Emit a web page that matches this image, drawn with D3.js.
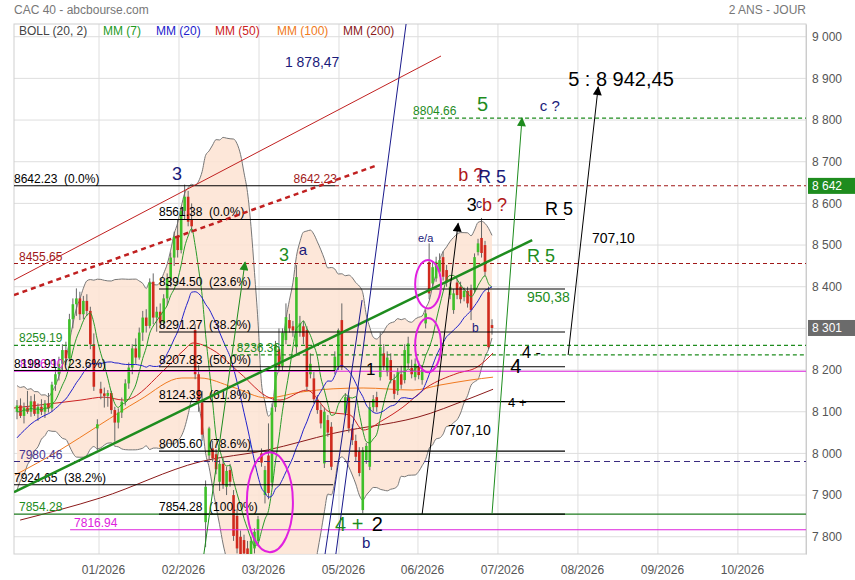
<!DOCTYPE html>
<html><head><meta charset="utf-8">
<script src="https://cdn.jsdelivr.net/npm/d3@7"></script>
<style>
html,body{margin:0;padding:0;background:#fff;}
svg{display:block;font-family:"Liberation Sans",Arial,sans-serif;}
text{white-space:pre;}
</style></head><body>
<svg id="c" width="855" height="580"></svg>
<script>
// ---------- DATA ----------
const priorCloses = [7905,7950,7930,7975,7970,8010,7995,8035,8030,8060,8045,8075,8068,8090,8080,8102,8095,8112,8105];
// [open, high, low, close] per trading day
const candles = [
[8100,8128,8082,8115],[8115,8132,8085,8090],[8090,8122,8072,8110],[8110,8150,8095,8100],[8100,8138,8088,8125],
[8125,8142,8090,8095],[8095,8120,8078,8112],[8112,8130,8092,8100],[8100,8128,8085,8120],[8120,8145,8098,8108],
[8108,8172,8100,8165],[8165,8205,8150,8190],[8190,8232,8175,8215],[8215,8262,8200,8248],[8248,8268,8212,8228],
[8228,8335,8222,8322],[8322,8372,8300,8358],[8358,8396,8330,8372],[8372,8388,8320,8334],[8334,8378,8322,8366],
[8366,8382,8330,8342],[8342,8352,8250,8262],[8262,8288,8150,8160],[8060,8082,8008,8070],[8155,8172,8130,8144],
[8144,8158,8110,8138],[8138,8152,8112,8145],[8145,8150,8095,8104],[8104,8112,8028,8074],[8074,8108,8060,8098],
[8098,8134,8085,8124],[8124,8178,8115,8168],[8168,8218,8155,8206],[8206,8262,8190,8252],[8252,8276,8215,8230],
[8230,8302,8225,8290],[8290,8342,8270,8326],[8326,8346,8290,8306],[8306,8420,8300,8410],[8412,8432,8310,8326],
[8326,8352,8292,8340],[8340,8360,8300,8314],[8314,8382,8300,8372],[8372,8432,8355,8420],[8420,8482,8400,8470],
[8470,8532,8450,8520],[8520,8562,8470,8488],[8488,8592,8480,8582],[8582,8645,8560,8616],[8616,8630,8545,8556],
[8562,8600,8530,8545],[8296,8310,8178,8190],[8190,8212,8100,8122],[8122,8150,8030,8045],[7835,7935,7775,7920],
[7995,8064,7985,8060],[8012,8030,7980,7988],[7998,8010,7950,7962],[7932,7985,7910,7975],[7975,7990,7915,7925],
[7920,7968,7900,7958],[7960,7975,7920,7932],[7900,7912,7790,7802],[7850,7866,7760,7772],[7800,7815,7740,7758],
[7792,7805,7735,7760],[7772,7790,7730,7752],[7755,7800,7735,7790],[7772,7820,7760,7812],[7790,7850,7780,7842],
[8000,8012,7968,7978],[7900,7970,7880,7960],[7995,8072,7890,7905],[7930,8120,7920,8110],[8111,8270,8100,8255],
[8250,8300,8195,8210],[8210,8300,8200,8290],[8272,8360,8262,8327],[8320,8335,8290,8300],[8305,8318,8280,8295],
[8255,8452,8240,8423],[8290,8330,8280,8312],[8305,8318,8262,8280],[8296,8305,8150,8160],[8190,8240,8180,8215],
[8180,8195,8120,8130],[8128,8140,8095,8104],[8104,8118,8060,8072],[7976,8110,7965,8100],[8080,8092,8040,8050],
[8064,8075,7960,7968],[8200,8245,8190,8232],[8210,8300,8200,8296],[8320,8360,8200,8207],[8096,8145,8090,8135],
[8135,8140,8050,8060],[8060,8070,8020,8032],[8030,8045,7980,7992],[8004,8015,7945,7953],[7864,8015,7856,8008],
[7984,8025,7975,8018],[7968,8125,7960,8111],[8111,8140,8100,8130],[8135,8148,8100,8111],[8183,8290,8175,8255],
[8240,8262,8200,8210],[8195,8245,8185,8230],[8224,8240,8168,8176],[8176,8190,8130,8143],[8150,8205,8140,8195],
[8190,8210,8155,8165],[8176,8262,8168,8248],[8216,8280,8205,8264],[8205,8225,8180,8190],[8183,8228,8175,8215],
[8210,8222,8178,8188],[8176,8212,8165,8200],[8312,8345,8300,8336],[8459,8504,8370,8384],[8408,8462,8400,8447],
[8420,8472,8412,8460],[8436,8480,8425,8464],[8471,8485,8415,8424],[8440,8452,8400,8410],[8380,8410,8370,8400],
[8344,8395,8335,8384],[8410,8420,8370,8380],[8400,8412,8360,8370],[8375,8398,8365,8390],[8390,8400,8350,8360],
[8392,8405,8320,8344],[8392,8480,8385,8471],[8483,8515,8475,8504],[8517,8565,8470,8481],[8500,8510,8425,8436],
[8387,8400,8250,8255],[8308,8322,8285,8301]
];
// long moving averages: [day index, value]
const mm50 = [[-0.86,8109],[18.3,8128],[24.9,8135],[30.6,8128],[42.1,8200],[47.8,8248],[50.4,8265],[56.1,8248],[63.8,8193],[72.4,8133],[75.3,8128],[83.0,8152],[89.6,8099],[95.4,8092],[99.1,8056],[104.8,8080],[110.5,8111],[117.4,8159],[126.0,8192],[131.7,8207],[136.3,8241]];
const mm100 = [[-0.6,7948],[12.3,8008],[23.6,8068],[35.1,8128],[47.2,8181],[52.4,8181],[61.8,8159],[71.6,8133],[81.1,8147],[90.5,8155],[99.1,8157],[113.4,8152],[121.1,8164],[129.7,8176],[136.3,8183]];
const mm200 = [[0.9,7840],[23.8,7893],[52.4,7980],[71.6,8008],[90.5,8048],[118.3,8096],[126.0,8120],[136.3,8154]];
const yTicks = [7800,7900,8000,8100,8200,8300,8400,8500,8600,8700,8800,8900,9000];
const monthTicks = [23.48,46.38,69.29,92.19,114.8,137.7,160.6,183.5,206.4];
const monthLabels = ["01/2026","02/2026","03/2026","05/2026","06/2026","07/2026","08/2026","09/2026","10/2026"];
const legendItems = [["BOLL (20, 2)","#444"],["MM (7)","#1e9a1e"],["MM (20)","#2222cc"],["MM (50)","#cc2222"],["MM (100)","#f07a20"],["MM (200)","#8b1a1a"]];
// horizontal levels: price, from day, to day, colour, dash, label, label colour
const levels = [
 [7854.28,-0.86,225.9,"#1e7a1e",null,"7854.28","#1e8c1e"],
 [8642.23,-0.86,91.05,"#000",null,"8642.23  (0.0%)","#000"],
 [8642.23,91.05,225.9,"#a01818","4,3",null,null],
 [8561.38,40.66,156.9,"#000",null,"8561.38  (0.0%)","#000"],
 [8394.50,40.66,156.9,"#000",null,"8394.50  (23.6%)","#000"],
 [8291.27,40.66,156.9,"#000",null,"8291.27  (38.2%)","#000"],
 [8207.83,40.66,156.9,"#000",null,"8207.83  (50.0%)","#000"],
 [8124.39,40.66,156.9,"#000",null,"8124.39  (61.8%)","#000"],
 [8005.60,40.66,156.9,"#000",null,"8005.60  (78.6%)","#000"],
 [7854.28,40.66,156.9,"#000",null,"7854.28  (100.0%)","#000"],
 [8455.65,-0.86,225.9,"#a01818","4,3","8455.65","#a01818"],
 [8259.19,-0.86,225.9,"#1e8c1e","4,3","8259.19","#1e8c1e"],
 [8236.36,61.8,225.9,"#1e8c1e","4,3","8236.36","#1e8c1e"],
 [8804.66,113.4,225.9,"#1e8c1e","4,3","8804.66","#1e8c1e"],
 [8197.0,-0.86,225.9,"#dd22dd",null,"8196.90","#dd22dd"],
 [8198.91,-0.86,91.05,"#000",null,"8198.91  (23.6%)","#000"],
 [7980.46,-0.86,225.9,"#3a2a80","6,4","7980.46","#4a3590"],
 [7924.65,-0.86,90.5,"#000",null,"7924.65  (38.2%)","#000"],
 [7816.94,15.2,225.9,"#dd22dd",null,"7816.94","#dd22dd"]
];
const labelOffsets = [5,0,0,0,0,0,0,0,0,0,5,5,4,0,6,0,5,0,4];
// drawn lines: [day0, price0, day1, price1, colour, width, dash, arrow]
const trendLines = [
 [-0.86,8416,121.4,8953.7,"#c02020",1,null,null],
 [-0.86,8380,102.5,8689.7,"#c02020",2.5,"5,4",null],
 [-0.86,7907,147.5,8512.1,"#1e8c1e",2.5,null,null],
 [91.3,7758.6,111.4,9030.5,"#1a1a8c",1,null,null],
 [88.2,7758.6,98.8,8368,"#1a1a8c",1,null,null],
 [116.0,7854.5,126.3,8552,"#000",1,null,"black"],
 [157.8,8236.2,166.4,8879.3,"#000",1,null,"black"],
 [53.5,7758.6,65.3,8459.3,"#1e8c1e",1,null,"green"],
 [136.0,7854.5,144.6,8804.9,"#1e8c1e",1,null,"green"]
];
// ellipses: centre day, centre price, radius in days, radius in points
const ellipses = [[72.4,7883,6.6,120],[117.7,8406,3.7,58],[117.7,8260,3.7,65]];
// notes: day, price (baseline), text, colour, size
const notes = [
 [44.4,8656,"3","#1a1a7a",18],
 [76.7,8927,"1 878,47","#1a1a7a",14],
 [131.7,8822,"5","#1e8c1e",20],
 [149.7,8822,"c ?","#1a1a7a",15],
 [157.8,8882,"5 : 8 942,45","#000",20],
 [126.3,8654,"b ?","#b01818",18],
 [132.0,8649,"R 5","#1a1a7a",18],
 [128.8,8582,"3","#000",18],
 [131.4,8589,"c","#1a1a7a",12],
 [133.1,8582,"b ?","#b01818",18],
 [151.2,8572,"R 5","#000",18],
 [114.8,8507,"e/a","#1a1a7a",11],
 [146.0,8459,"R 5","#1e8c1e",18],
 [164.6,8505,"707,10","#000",14],
 [146.0,8363,"950,38","#1e8c1e",14],
 [130.3,8291,"b","#1a1a7a",12],
 [144.6,8229,"4 -","#000",16],
 [141.2,8193,"4","#000",20],
 [140.6,8111,"4 +","#000",13],
 [123.4,8044,"707,10","#000",14],
 [75.0,8462,"3","#1e8c1e",18],
 [80.7,8476,"a","#1a1a7a",15],
 [99.9,8188,"1","#000",17],
 [91.05,7814,"4 +","#1e8c1e",20],
 [101.6,7814,"2","#000",20],
 [98.8,7773,"b","#1a1a7a",15]
];
const redLevelTag = [91.6,8642.23,"8642.23","#a01818"];
const priceTags = [[8642,"#1e8c1e"],[8301,"#6b6b6b"]];

// ---------- CHART ----------
const W=855,H=580, L=14,R=806,T=24,B=554;
const svg = d3.select("#c");
const x = d3.scaleLinear().domain([-0.86,225.9]).range([L,R]);
const y = d3.scaleLinear().domain([7758.6,9030.5]).range([B,T]);

svg.append("defs").append("clipPath").attr("id","clip").append("rect")
  .attr("x",L).attr("y",T).attr("width",R-L).attr("height",B-T);
const defs = svg.select("defs");
[["black","#000"],["green","#1e8c1e"]].forEach(([id,col])=>{
  defs.append("marker").attr("id","arr-"+id).attr("viewBox","0 0 10 10")
   .attr("refX",9).attr("refY",5).attr("markerWidth",11).attr("markerHeight",9)
   .attr("markerUnits","userSpaceOnUse").attr("orient","auto")
   .append("path").attr("d","M0,0L10,5L0,10z").attr("fill",col);
});

// titles
svg.append("text").attr("x",14).attr("y",14).attr("font-size",12).attr("fill","#777").text("CAC 40 - abcbourse.com");
svg.append("text").attr("x",R).attr("y",14).attr("font-size",12).attr("fill","#777").attr("text-anchor","end").text("2 ANS - JOUR");

// grid
const grid = svg.append("g");
grid.selectAll(".hg").data(yTicks).join("line").attr("x1",L).attr("x2",R)
  .attr("y1",d=>y(d)).attr("y2",d=>y(d)).attr("stroke","#dedede");
grid.selectAll(".vg").data(monthTicks).join("line").attr("y1",T).attr("y2",B)
  .attr("x1",d=>x(d)).attr("x2",d=>x(d)).attr("stroke","#dedede");
svg.append("rect").attr("x",L).attr("y",T).attr("width",R-L).attr("height",B-T)
  .attr("fill","none").attr("stroke","#d0d0d0");

// axes
const fmt = d=>d3.format(",")(d).replace(","," ");
const yAx = svg.append("g").attr("transform",`translate(${R},0)`)
  .call(d3.axisRight(y).tickValues(yTicks).tickFormat(fmt).tickSize(0).tickPadding(6));
yAx.select(".domain").attr("stroke","#ccc");
yAx.selectAll("text").attr("font-size",12).attr("fill","#555").attr("font-family","Liberation Sans, Arial");
const xAx = svg.append("g").attr("transform",`translate(4,${B})`)
  .call(d3.axisBottom(x).tickValues(monthTicks).tickFormat((d,k)=>monthLabels[k]).tickSize(0).tickPadding(11));
xAx.select(".domain").remove();
xAx.selectAll("text").attr("font-size",12).attr("fill","#555").attr("font-family","Liberation Sans, Arial");

// legend
const legX=[19,103,156,215,277,343];
legendItems.forEach((d,k)=>svg.append("text").attr("x",legX[k]).attr("y",35).attr("font-size",12).attr("fill",d[1]).text(d[0]));

// indicators
const closes = candles.map(d=>d[3]);
const all = priorCloses.concat(closes);
const off = priorCloses.length;
const sma = n => closes.map((c,i)=>{const w=all.slice(Math.max(0,i+off-n+1),i+off+1);return [i,d3.mean(w)];});
const mm7 = sma(7), mm20 = sma(20);
const boll = closes.map((c,i)=>{const w=all.slice(i+off-19,i+off+1);const m=d3.mean(w);const s=Math.sqrt(d3.mean(w,v=>(v-m)*(v-m)));return [i,m+2*s,m-2*s];});

const plot = svg.append("g").attr("clip-path","url(#clip)");
plot.append("path").datum(boll).attr("fill","#fde3d2").attr("fill-opacity",0.85)
  .attr("d",d3.area().x(d=>x(d[0])).y0(d=>y(d[2])).y1(d=>y(d[1])).curve(d3.curveMonotoneX));
const ln = d3.line().x(d=>x(d[0])).y(d=>y(d[1])).curve(d3.curveMonotoneX);
plot.append("path").datum(boll.map(d=>[d[0],d[1]])).attr("d",ln).attr("fill","none").attr("stroke","#777").attr("stroke-width",1);
plot.append("path").datum(boll.map(d=>[d[0],d[2]])).attr("d",ln).attr("fill","none").attr("stroke","#777").attr("stroke-width",1);

[[mm200,"#8b1a1a"],[mm100,"#f07a20"],[mm50,"#cc2222"]].forEach(([s,c])=>
  plot.append("path").datum(s).attr("d",ln).attr("fill","none").attr("stroke",c).attr("stroke-width",1));

// candles
const bw = 2.6;
const cg = plot.append("g");
cg.selectAll(".w").data(candles).join("line")
  .attr("x1",(d,i)=>x(i)).attr("x2",(d,i)=>x(i)).attr("y1",d=>y(d[1])).attr("y2",d=>y(d[2]))
  .attr("stroke","#666").attr("stroke-width",1);
cg.selectAll(".b").data(candles).join("rect")
  .attr("x",(d,i)=>x(i)-bw/2).attr("width",bw)
  .attr("y",d=>y(Math.max(d[0],d[3]))).attr("height",d=>Math.max(1,Math.abs(y(d[0])-y(d[3]))))
  .attr("fill",d=>d[3]>=d[0]?"#3fbf2a":"#d02a1e");

plot.append("path").datum(mm7).attr("d",ln).attr("fill","none").attr("stroke","#2a9a2a").attr("stroke-width",1);
plot.append("path").datum(mm20).attr("d",ln).attr("fill","none").attr("stroke","#2222cc").attr("stroke-width",1);

// levels
const lv = svg.append("g");
levels.forEach((d,k)=>{
  lv.append("line").attr("x1",x(d[1])).attr("x2",x(d[2])).attr("y1",y(d[0])).attr("y2",y(d[0]))
    .attr("stroke",d[3]).attr("stroke-width",1.1).attr("stroke-dasharray",d[4]);
});
levels.forEach((d,k)=>{
  if(d[5]) lv.append("text").attr("x",x(d[1])+labelOffsets[k]).attr("y",y(d[0])-3)
    .attr("font-size",12).attr("fill",d[6]).text(d[5]);
});
lv.append("text").attr("x",x(redLevelTag[0])).attr("y",y(redLevelTag[1])-3).attr("text-anchor","end")
  .attr("font-size",12).attr("fill",redLevelTag[3]).text(redLevelTag[2]);

// trend lines
const tl = svg.append("g").attr("clip-path","url(#clip)");
trendLines.forEach(d=>{
  const l = tl.append("line").attr("x1",x(d[0])).attr("y1",y(d[1])).attr("x2",x(d[2])).attr("y2",y(d[3]))
    .attr("stroke",d[4]).attr("stroke-width",d[5]).attr("stroke-dasharray",d[6]);
  if(d[7]) l.attr("marker-end",`url(#arr-${d[7]})`);
});
// ellipses
ellipses.forEach(d=>{
  svg.append("ellipse").attr("cx",x(d[0])).attr("cy",y(d[1]))
   .attr("rx",x(d[2])-x(0)).attr("ry",y(7800)-y(7800+d[3]))
   .attr("fill","none").attr("stroke","#e020e0").attr("stroke-width",2);
});
// notes
notes.forEach(d=>svg.append("text").attr("x",x(d[0])).attr("y",y(d[1])).attr("font-size",d[4]).attr("fill",d[3]).text(d[2]));

// price tags
priceTags.forEach(([v,bg])=>{
  svg.append("rect").attr("x",R+2).attr("y",y(v)-8).attr("width",W-R-2).attr("height",16).attr("fill",bg);
  svg.append("text").attr("x",R+6).attr("y",y(v)+4.5).attr("font-size",12).attr("fill","#fff").text(fmt(v));
});
</script></body></html>
